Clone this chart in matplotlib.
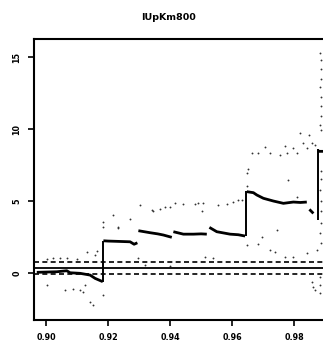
import numpy as np
import matplotlib.pyplot as plt

title = "IUpKm800"

# main fitted line (NaN separates pieces)
main_x = [0.8970, 0.90345, 0.90668, 0.90774, 0.91097, 0.91419, 0.91581, 0.91829,
          np.nan,
          0.91848, 0.92000, 0.92300, 0.92710, 0.92839, 0.92945,
          np.nan,
          0.92977, 0.93355, 0.93600, 0.93784, 0.94055,
          np.nan,
          0.94106, 0.94429, 0.94752, 0.95000, 0.95184,
          np.nan,
          0.95268, 0.95506, 0.95935, 0.96200, 0.96419,
          np.nan,
          0.96474, 0.96687, 0.96797, 0.97010, 0.97332, 0.97655, 0.97977, 0.98200, 0.98410,
          np.nan,
          0.98494, 0.98623,
          np.nan,
          0.98774, 0.98800, 0.99000]
main_y = [0.05, 0.09, 0.16, 0.02, -0.02, -0.14, -0.37, -0.60,
          np.nan,
          2.24, 2.22, 2.20, 2.17, 2.00, 2.10,
          np.nan,
          2.94, 2.80, 2.72, 2.64, 2.48,
          np.nan,
          2.87, 2.70, 2.70, 2.72, 2.70,
          np.nan,
          3.17, 2.87, 2.70, 2.66, 2.57,
          np.nan,
          5.65, 5.58, 5.42, 5.19, 5.00, 4.84, 4.93, 4.90, 4.93,
          np.nan,
          4.42, 4.14,
          np.nan,
          8.50, 8.45, 8.45]

# jumps (vertical strokes)
jump_x = [0.91840, 0.96460, 0.98760]
jump_lo = [-0.65, 2.55, 3.70]
jump_hi = [2.24, 5.70, 8.60]

# upper band scatter
up_x = [0.90022, 0.90236, 0.90452, 0.90668, 0.9099, 0.91313, 0.91635, 0.91581, 0.91848,
        0.9185, 0.92332, 0.92171, 0.9271, 0.93032, 0.93409, 0.93442, 0.93677, 0.93839,
        0.9400, 0.94161, 0.94429, 0.94806, 0.94914, 0.95074, 0.95023, 0.95558, 0.95829,
        0.96042, 0.96203, 0.96313, 0.96474, 0.96494, 0.965, 0.96635, 0.96848, 0.97065,
        0.97226, 0.97548, 0.9771, 0.97765, 0.97977, 0.98087, 0.98194, 0.983, 0.9841,
        0.98494, 0.98571, 0.98677, 0.97816, 0.98087, 0.92332]
up_y = [0.97, 1.02, 1.06, 1.02, 0.97, 1.48, 1.55, 1.25, 3.56,
        3.22, 3.22, 4.03, 3.73, 4.72, 4.38, 4.30, 4.44, 4.56,
        4.56, 4.88, 4.79, 4.79, 4.88, 4.84, 4.30, 4.72, 4.79,
        4.95, 5.07, 5.07, 6.04, 6.92, 7.22, 8.35, 8.35, 8.73,
        8.35, 8.19, 8.82, 8.35, 8.66, 8.35, 9.70, 9.00, 8.66,
        9.58, 9.00, 8.89, 6.46, 5.30, 3.10]

# lower band scatter
lo_x = [0.90022, 0.90613, 0.90881, 0.91097, 0.91203, 0.91258, 0.91419, 0.91526, 0.91829,
        0.92977, 0.96474, 0.96958, 0.97442, 0.96848, 0.97226, 0.97387, 0.9771, 0.97977,
        0.9841, 0.98733, 0.98571, 0.98623, 0.98677, 0.95129, 0.95397, 0.93200, 0.94000]
lo_y = [-0.83, -1.18, -1.13, -1.18, -1.30, -0.83, -1.99, -2.22, -1.53,
        1.02, 1.94, 2.52, 2.99, 1.99, 1.60, 1.48, 1.13, 1.09,
        1.37, 1.60, -0.60, -0.95, -1.18, 1.13, 1.02, 0.55, 0.50]

# column of points at the right edge
col_x = [0.9885, 0.9887, 0.9886, 0.9888, 0.9885, 0.9887, 0.9886, 0.9888, 0.9885, 0.9887,
         0.9886, 0.9888, 0.9885, 0.9887, 0.9886, 0.9888, 0.9885, 0.9887, 0.9882, 0.9882, 0.9882]
col_y = [15.3, 14.8, 14.2, 13.5, 12.9, 12.2, 11.6, 10.9, 10.3, 9.9,
         7.1, 6.5, 5.8, 5.0, 4.3, 3.5, 2.8, 2.1, -0.3, -0.8, -1.4]

hlines_y = [0.77, 0.33, -0.07]
hlines_style = ['dashed', 'solid', 'dashed']

xticks = [0.90, 0.92, 0.94, 0.96, 0.98]
yticks = [0, 5, 10, 15]

fig = plt.figure(figsize=(3.23, 3.42), dpi=100)
ax = fig.add_axes([34 / 323, 1 - 320 / 342, 300 / 323, 281 / 342])

for y, ls in zip(hlines_y, hlines_style):
    if ls == 'solid':
        ax.axhline(y, color='black', lw=1.3)
    else:
        ax.axhline(y, color='black', lw=1.2, linestyle=(0, (3, 2)))

ax.scatter(up_x, up_y, s=1.8, color='#333333', lw=0)
ax.scatter(lo_x, lo_y, s=1.8, color='#333333', lw=0)
ax.scatter(col_x, col_y, s=1.8, color='#333333', lw=0)

ax.plot(main_x, main_y, color='black', lw=2.0, solid_capstyle='butt')
ax.vlines(jump_x, jump_lo, jump_hi, color='black', lw=1.4)

ax.set_xlim(0.8961, 0.8961 + 300 / 3100)
ax.set_ylim(-3.26, 16.25)
ax.set_xticks(xticks)
ax.set_xticklabels(['%.2f' % v for v in xticks], fontsize=5.8, fontweight='bold')
ax.set_yticks(yticks)
ax.set_yticklabels([str(v) for v in yticks], fontsize=5.8, fontweight='bold',
                   rotation=90, va='center')
ax.tick_params(direction='out', length=4, width=1.2, pad=5)
for sp in ax.spines.values():
    sp.set_linewidth(1.5)
ax.spines['right'].set_visible(False)

fig.text(168 / 323, 1 - 18 / 342, title, ha='center', va='center',
         fontsize=6.8, fontweight='bold')

fig.savefig('out.png', dpi=100)
